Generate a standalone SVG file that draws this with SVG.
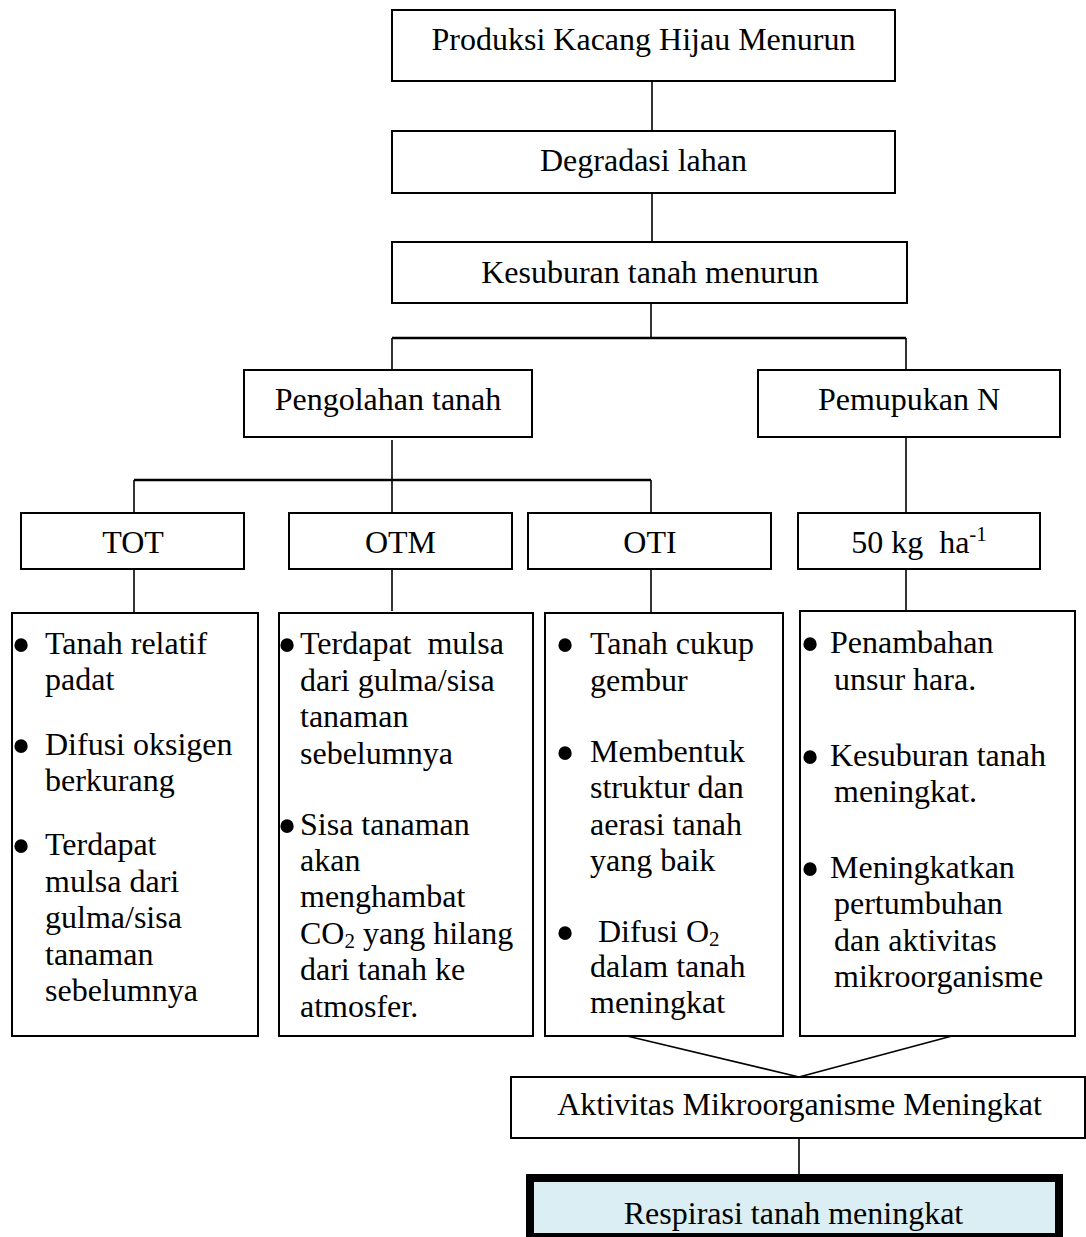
<svg xmlns="http://www.w3.org/2000/svg" width="1086" height="1237" viewBox="0 0 1086 1237">
<style>
.box{fill:#fff;stroke:#000;stroke-width:2}
.ln{stroke:#000;stroke-width:1.6;fill:none}
.hb{stroke:#000;stroke-width:2.6;fill:none}
.t{font-family:"Liberation Serif","Times New Roman",serif;font-size:32px;fill:#000}
.c{text-anchor:middle}
.b{font-family:"Liberation Serif","Times New Roman",serif;font-size:56px;fill:#000;text-anchor:middle}
.s{font-size:21px}
</style>
<rect width="1086" height="1237" fill="#fff"/>
<g id="connectors">
<line class="ln" x1="652" y1="81" x2="652" y2="131"/>
<line class="ln" x1="652" y1="193" x2="652" y2="242"/>
<line class="ln" x1="651" y1="303" x2="651" y2="338"/>
<line class="hb" x1="392" y1="338" x2="906" y2="338"/>
<line class="ln" x1="392" y1="338" x2="392" y2="370"/>
<line class="ln" x1="906" y1="338" x2="906" y2="370"/>
<line class="ln" x1="392" y1="440" x2="392" y2="513"/>
<line class="hb" x1="134" y1="480" x2="651" y2="480"/>
<line class="ln" x1="134" y1="480" x2="134" y2="513"/>
<line class="ln" x1="651" y1="480" x2="651" y2="513"/>
<line class="ln" x1="906" y1="437" x2="906" y2="513"/>
<line class="ln" x1="134" y1="569" x2="134" y2="613"/>
<line class="ln" x1="392" y1="569" x2="392" y2="611"/>
<line class="ln" x1="651" y1="569" x2="651" y2="613"/>
<line class="ln" x1="906" y1="569" x2="906" y2="611"/>
<line class="ln" x1="627" y1="1036" x2="799" y2="1077"/>
<line class="ln" x1="952" y1="1036" x2="799" y2="1077"/>
<line class="ln" x1="799" y1="1138" x2="799" y2="1174"/>
</g>
<g id="n-produksi">
<rect class="box" x="392" y="10" width="503" height="71"/>
<text class="t c" x="643.5" y="50">Produksi Kacang Hijau Menurun</text>
</g>
<g id="n-degradasi">
<rect class="box" x="392" y="131" width="503" height="62"/>
<text class="t c" x="643.5" y="171">Degradasi lahan</text>
</g>
<g id="n-kesuburan">
<rect class="box" x="392" y="242" width="515" height="61"/>
<text class="t c" x="650" y="283">Kesuburan tanah menurun</text>
</g>
<g id="n-pengolahan">
<rect class="box" x="244" y="370" width="288" height="67"/>
<text class="t c" x="388" y="410">Pengolahan tanah</text>
</g>
<g id="n-pemupukan">
<rect class="box" x="758" y="370" width="302" height="67"/>
<text class="t c" x="909" y="410">Pemupukan N</text>
</g>
<g id="n-tot">
<rect class="box" x="21" y="513" width="223" height="56"/>
<text class="t c" x="133" y="553">TOT</text>
</g>
<g id="n-otm">
<rect class="box" x="289" y="513" width="223" height="56"/>
<text class="t c" x="400.5" y="553">OTM</text>
</g>
<g id="n-oti">
<rect class="box" x="528" y="513" width="243" height="56"/>
<text class="t c" x="650" y="553">OTI</text>
</g>
<g id="n-50kg">
<rect class="box" x="798" y="513" width="242" height="56"/>
<text class="t c" x="919" y="553" xml:space="preserve">50 kg  ha<tspan class="s" dy="-12">-1</tspan></text>
</g>
<g id="n-tot-desc">
<rect class="box" x="12" y="613" width="246" height="423"/>
<text class="b" x="21" y="663.5">•</text>
<text class="b" x="21" y="764.5">•</text>
<text class="b" x="21" y="864.5">•</text>
<text class="t" x="45" y="654">Tanah relatif</text>
<text class="t" x="45" y="690">padat</text>
<text class="t" x="45" y="755">Difusi oksigen</text>
<text class="t" x="45" y="791">berkurang</text>
<text class="t" x="45" y="855">Terdapat</text>
<text class="t" x="45" y="892">mulsa dari</text>
<text class="t" x="45" y="928">gulma/sisa</text>
<text class="t" x="45" y="965">tanaman</text>
<text class="t" x="45" y="1001">sebelumnya</text>
</g>
<g id="n-otm-desc">
<rect class="box" x="279" y="613" width="254" height="423"/>
<text class="b" x="287" y="663.5">•</text>
<text class="b" x="287" y="844.5">•</text>
<text class="t" x="300" y="654" xml:space="preserve">Terdapat  mulsa</text>
<text class="t" x="300" y="691">dari gulma/sisa</text>
<text class="t" x="300" y="727">tanaman</text>
<text class="t" x="300" y="764">sebelumnya</text>
<text class="t" x="300" y="835">Sisa tanaman</text>
<text class="t" x="300" y="871">akan</text>
<text class="t" x="300" y="907">menghambat</text>
<text class="t" x="300" y="944">CO<tspan class="s" dy="4">2</tspan><tspan dy="-4"> yang hilang</tspan></text>
<text class="t" x="300" y="980">dari tanah ke</text>
<text class="t" x="300" y="1017">atmosfer.</text>
</g>
<g id="n-oti-desc">
<rect class="box" x="545" y="613" width="238" height="423"/>
<text class="b" x="565" y="663.5">•</text>
<text class="b" x="565" y="771.5">•</text>
<text class="b" x="565" y="951.5">•</text>
<text class="t" x="590" y="654">Tanah cukup</text>
<text class="t" x="590" y="691">gembur</text>
<text class="t" x="590" y="762">Membentuk</text>
<text class="t" x="590" y="798">struktur dan</text>
<text class="t" x="590" y="835">aerasi tanah</text>
<text class="t" x="590" y="871">yang baik</text>
<text class="t" x="598" y="942">Difusi O<tspan class="s" dy="4">2</tspan></text>
<text class="t" x="590" y="977">dalam tanah</text>
<text class="t" x="590" y="1013">meningkat</text>
</g>
<g id="n-50kg-desc">
<rect class="box" x="800" y="611" width="275" height="425"/>
<text class="b" x="810" y="662.5">•</text>
<text class="b" x="810" y="775.5">•</text>
<text class="b" x="810" y="887.5">•</text>
<text class="t" x="830" y="653">Penambahan</text>
<text class="t" x="834" y="690">unsur hara.</text>
<text class="t" x="830" y="766">Kesuburan tanah</text>
<text class="t" x="834" y="802">meningkat.</text>
<text class="t" x="830" y="878">Meningkatkan</text>
<text class="t" x="834" y="914">pertumbuhan</text>
<text class="t" x="834" y="951">dan aktivitas</text>
<text class="t" x="834" y="987">mikroorganisme</text>
</g>
<g id="n-aktivitas">
<rect class="box" x="511" y="1077" width="574" height="61"/>
<text class="t c" x="799.5" y="1115">Aktivitas Mikroorganisme Meningkat</text>
</g>
<g id="n-respirasi">
<rect x="530" y="1178" width="529" height="59" fill="#DAEEF3"/>
<text class="t c" x="793.5" y="1224">Respirasi tanah meningkat</text>
<rect x="530" y="1178" width="529" height="59" fill="none" stroke="#000" stroke-width="8"/>
</g>
</svg>
